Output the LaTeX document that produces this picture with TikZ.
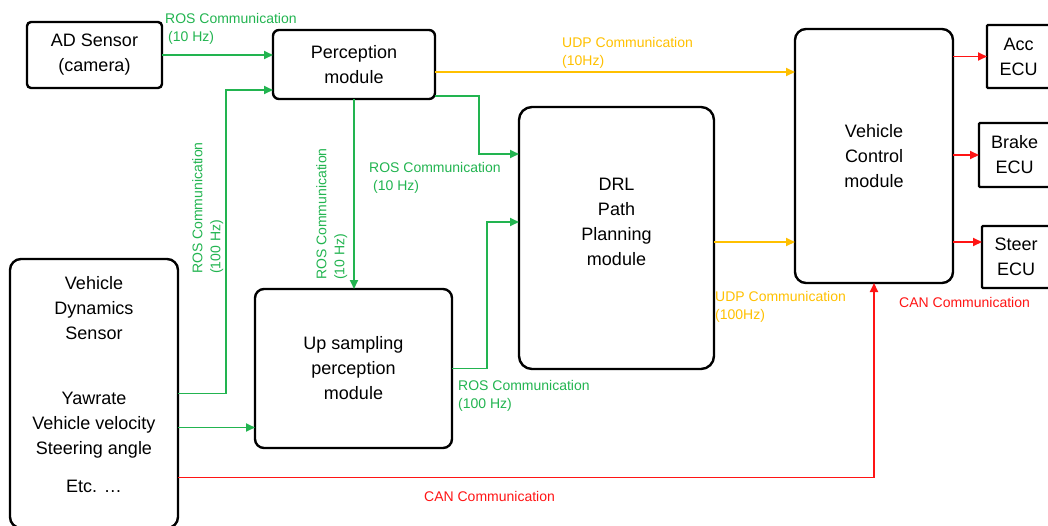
\documentclass[tikz,border=0pt]{standalone}
\usepackage{fontspec}
\setmainfont{Liberation Sans}
\usepackage{tikz}
\usetikzlibrary{positioning,arrows.meta}
\definecolor{rosgreen}{RGB}{34,180,80}
\definecolor{udpyellow}{RGB}{255,192,0}
\definecolor{canred}{RGB}{255,20,20}

\begin{document}
\begin{tikzpicture}[x=1pt,y=-1pt]
\tikzset{boxtext/.style={align=center,inner sep=0pt,font=\fontsize{18}{25}\selectfont}}
\tikzset{module/.style={boxtext,draw,line width=2.4pt,rounded corners=9pt,outer sep=0pt}}
\tikzset{ecu/.style={module,rounded corners=1pt}}
\tikzset{link/.style={line width=1.8pt,-{Triangle[length=9pt,width=8pt]}}}
\tikzset{ros/.style={link,draw=rosgreen},udp/.style={link,draw=udpyellow},can/.style={link,draw=canred}}
\tikzset{commtext/.style={align=left,inner sep=0pt,anchor=north west,font=\fontsize{14}{18}\selectfont}}
\useasboundingbox (0,0) rectangle (1048,525);
\node[ecu,rounded corners=4pt,minimum width=135pt,minimum height=66pt] (ad) at (94.5,55) {AD Sensor\\(camera)};
\node[module,rounded corners=6pt,minimum width=162pt,minimum height=69pt] (perc) at (354,64.5) {Perception\\module};
\node[module,rounded corners=13pt,minimum width=195pt,minimum height=262pt] (drl) at (616.5,238) {};
\node[boxtext] (drltext) at ([yshift=16.5pt]drl.center) {DRL\\Path\\Planning\\module};
\node[module,rounded corners=11pt,minimum width=158pt,minimum height=254pt] (vcm) at (874,156) {Vehicle\\Control\\module};
\node[module,minimum width=197pt,minimum height=159pt] (ups) at (353.5,368.5) {Up sampling\\perception\\module};
\node[module,rounded corners=11pt,minimum width=168pt,minimum height=269pt] (vds) at (94,393.5) {};
\node[boxtext] (vdstext) at ([yshift=8.5pt]vds.center) {Vehicle\\Dynamics\\Sensor\\[40pt]Yawrate\\Vehicle velocity\\Steering angle\\[13pt]Etc. …};
\node[ecu,minimum width=63pt,minimum height=63pt] (acc) at (1018.5,56.5) {Acc\\ECU};
\node[ecu,minimum width=71pt,minimum height=64pt] (brake) at (1014.5,155) {Brake\\ECU};
\node[ecu,minimum width=68pt,minimum height=62pt] (steer) at (1016,257) {Steer\\ECU};

\coordinate (vdsperc) at (226,90);
\coordinate (percdrl) at (479,154);
\coordinate (upsdrl) at (487,222);
\draw[ros] (ad.east) -- (ad.east -| perc.west);
\draw[ros] (vds.east) -| (vdsperc) -- (vdsperc -| perc.west);
\draw[ros] ([yshift=-34pt]vds.east) -- ([yshift=-34pt]vds.east -| ups.west);
\draw[ros] (perc.south) -- (perc.south |- ups.north);
\draw[ros] ([yshift=3pt]perc.south east) -| (percdrl) -- (percdrl -| drl.west);
\draw[ros] (ups.east) -| (upsdrl) -- (upsdrl -| drl.west);
\draw[udp] ([yshift=-7.5pt]perc.east) -- ([yshift=-7.5pt]perc.east -| vcm.west);
\draw[udp] ([yshift=-4pt]drl.east) -- ([yshift=-4pt]drl.east -| vcm.west);
\draw[can] ([yshift=-84pt]vds.east) -| (vcm.south);
\draw[can] (vcm.east |- acc.west) -- (acc.west);
\draw[can] (vcm.east |- brake.west) -- (brake.west);
\draw[can] ([yshift=15pt]steer.west -| vcm.east) -- ([yshift=15pt]steer.west);

\node[commtext,text=rosgreen] (adlbl) at (165,13) {ROS Communication\\\hspace{3pt}(10 Hz)};
\node[commtext,text=rosgreen,rotate=90] (vdslbl) at (192,274) {ROS Communication\\(100 Hz)};
\node[commtext,text=rosgreen,rotate=90] (upslbl) at (316,280) {ROS Communication\\(10 Hz)};
\node[commtext,text=rosgreen] (drllbl) at (369,162) {ROS Communication\\\hspace{4pt}(10 Hz)};
\node[commtext,text=rosgreen] (upsdrllbl) at (458,380) {ROS Communication\\(100 Hz)};
\node[commtext,text=udpyellow] (perclbl) at (562,37) {UDP Communication\\(10Hz)};
\node[commtext,text=udpyellow] (drlvcmlbl) at (715,291) {UDP Communication\\(100Hz)};
\node[commtext,text=canred] (eculbl) at (899,297) {CAN Communication};
\node[commtext,text=canred] (vdsvcmlbl) at (424,491) {CAN Communication};
\end{tikzpicture}
\end{document}
